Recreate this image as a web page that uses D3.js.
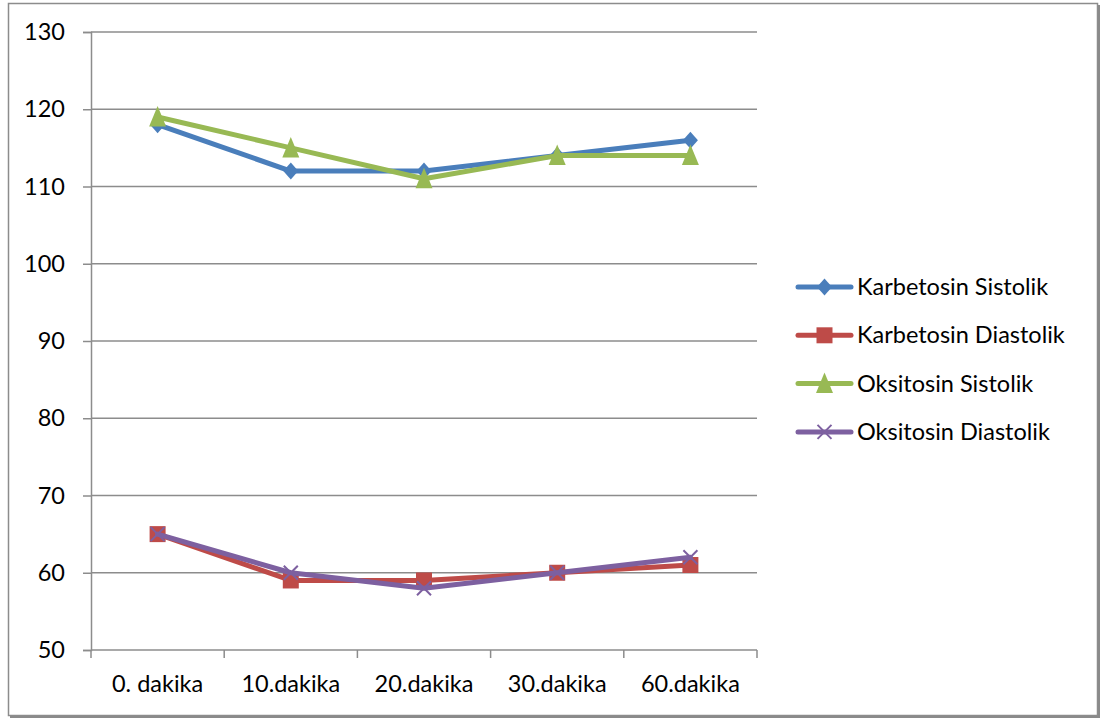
<!DOCTYPE html>
<html><head><meta charset="utf-8">
<script src="https://cdn.jsdelivr.net/npm/d3@7"></script>
<style>body{margin:0;background:#fff}svg{display:block}</style>
</head><body>
<svg id="c" width="1101" height="720"></svg>
<script>
const categories = ["0. dakika","10.dakika","20.dakika","30.dakika","60.dakika"];
const karbetosinSistolik = [118,112,112,114,116];
const karbetosinDiastolik = [65,59,59,60,61];
const oksitosinSistolik = [119,115,111,114,114];
const oksitosinDiastolik = [65,60,58,60,62];
const yTicks = [50,60,70,80,90,100,110,120,130];
const seriesNames = ["Karbetosin Sistolik","Karbetosin Diastolik","Oksitosin Sistolik","Oksitosin Diastolik"];

const series = [
  {name:seriesNames[0], values:karbetosinSistolik, color:"#4a7ebb", marker:"diamond"},
  {name:seriesNames[1], values:karbetosinDiastolik, color:"#be4b48", marker:"square"},
  {name:seriesNames[2], values:oksitosinSistolik, color:"#98b954", marker:"triangle"},
  {name:seriesNames[3], values:oksitosinDiastolik, color:"#7d60a0", marker:"x"}
];

const svg = d3.select("#c");
const font = "Lato, 'Open Sans', sans-serif";
const fs = 23.5;

// outer frame with shadow
svg.append("rect").attr("x",10).attr("y",5).attr("width",1090).attr("height",713).attr("fill","#8a8a8a");
svg.append("rect").attr("x",8.5).attr("y",3.5).attr("width",1089).attr("height",712).attr("fill","#fff").attr("stroke","#8c8c8c").attr("stroke-width",1.5);

const L=91, R=757, T=32, B=650;
const x = d3.scaleBand().domain(categories).range([L,R]);
const y = d3.scaleLinear().domain([50,130]).range([B,T]);

// gridlines
svg.append("g").selectAll("line").data(yTicks.filter(d=>d>50)).join("line")
  .attr("x1",L).attr("x2",R).attr("y1",d=>y(d)).attr("y2",d=>y(d))
  .attr("stroke","#8c8c8c").attr("stroke-width",1.5);

// y axis
const yAxis = svg.append("g").attr("transform",`translate(${L},0)`)
  .call(d3.axisLeft(y).tickValues(yTicks).tickSize(8).tickPadding(18));
// x axis
const xTickPos = categories.map(c=>x(c)).concat([R]);
const xAxis = svg.append("g").attr("transform",`translate(0,${B})`)
  .call(d3.axisBottom(x).tickSize(0).tickPadding(25));
xAxis.selectAll(".tickmark").data(xTickPos).join("line").attr("class","tickmark")
  .attr("x1",d=>d).attr("x2",d=>d).attr("y1",0).attr("y2",8);
[yAxis,xAxis].forEach(a=>{
  a.select(".domain").attr("stroke","#8c8c8c").attr("stroke-width",1.5);
  a.selectAll("line").attr("stroke","#8c8c8c").attr("stroke-width",1.5);
  a.selectAll("text").attr("font-family",font).attr("font-size",fs).attr("fill","#000");
});
xAxis.select(".domain").attr("d",`M${L},0H${R}`);

function markerPath(type){
  if(type==="diamond") return "M0,-8.5L7.5,0L0,8.5L-7.5,0Z";
  if(type==="square") return "M-8,-8H8V8H-8Z";
  if(type==="triangle") return "M0,-11L8.5,9.5L-8.5,9.5Z";
  return "M-7,-7L7,7M7,-7L-7,7";
}
function drawMarker(g, type, color, cx, cy){
  const p = g.append("path").attr("d",markerPath(type)).attr("transform",`translate(${cx},${cy})`);
  if(type==="x") p.attr("fill","none").attr("stroke",color).attr("stroke-width",2);
  else p.attr("fill",color);
}

const line = d3.line().x((d,i)=>x(categories[i])+x.bandwidth()/2).y(d=>y(d));
series.forEach(s=>{
  const g = svg.append("g");
  g.append("path").attr("d",line(s.values)).attr("fill","none").attr("stroke",s.color)
    .attr("stroke-width",5).attr("stroke-linejoin","round").attr("stroke-linecap","round");
  s.values.forEach((v,i)=>drawMarker(g,s.marker,s.color,x(categories[i])+x.bandwidth()/2,y(v)));
});

// legend
const lg = svg.append("g");
series.forEach((s,i)=>{
  const ly = 287 + i*48.3;
  lg.append("line").attr("x1",798).attr("x2",851).attr("y1",ly).attr("y2",ly)
    .attr("stroke",s.color).attr("stroke-width",5).attr("stroke-linecap","round");
  drawMarker(lg,s.marker,s.color,824.5,ly);
  lg.append("text").attr("x",857).attr("y",ly+8).text(s.name)
    .attr("font-family",font).attr("font-size",fs).attr("fill","#000");
});
</script>
</body></html>
